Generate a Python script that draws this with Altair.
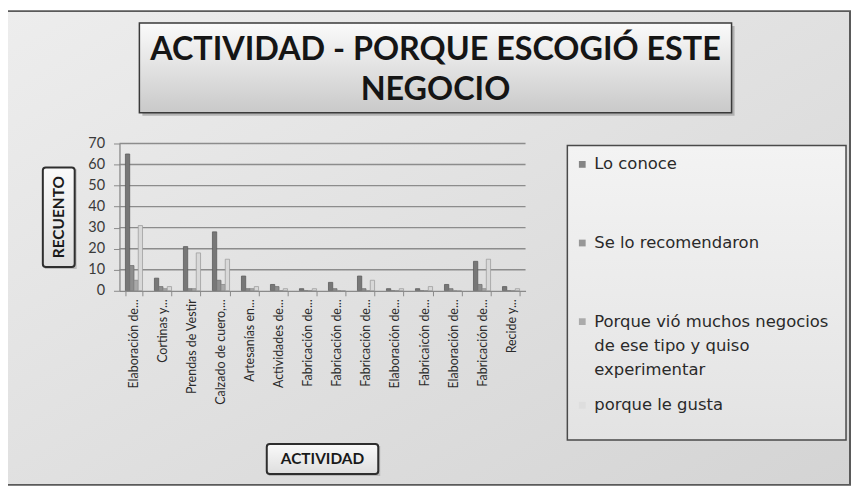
import json
import altair as alt
import pandas as pd

# ---------------- data ----------------
CATEGORIES = [
    "Elaboración de...", "Cortinas y...", "Prendas de Vestir", "Calzado de cuero,...",
    "Artesanías en...", "Actividades de...", "Fabricación de...", "Fabricación de...",
    "Fabricación de...", "Elaboración de...", "Fabricaicón de...", "Elaboración de...",
    "Fabricación de...", "Recide y...",
]
SERIES = [
    "Lo conoce",
    "Se lo recomendaron",
    "Porque vió muchos negocios de ese tipo y quiso experimentar",
    "porque le gusta",
]
LO_CONOCE = [65, 6, 21, 28, 7, 3, 1, 4, 7, 1, 1, 3, 14, 2]
SE_LO_RECOMENDARON = [12, 2, 1, 5, 1, 2, 0, 1, 1, 0, 0, 1, 3, 0]
PORQUE_VIO = [5, 1, 1, 3, 1, 0, 0, 0, 0, 0, 0, 0, 1, 0]
PORQUE_LE_GUSTA = [31, 2, 18, 15, 2, 1, 1, 0, 5, 1, 2, 0, 15, 1]
Y_TICKS = [0, 10, 20, 30, 40, 50, 60, 70]
GRID_LINES = [10, 20, 30, 40, 50, 60, 70]

TITLE_LINES = ["ACTIVIDAD - PORQUE ESCOGIÓ ESTE", "NEGOCIO"]
Y_TITLE = "RECUENTO"
X_TITLE = "ACTIVIDAD"
LEGEND_LINES = [
    ["Lo conoce"],
    ["Se lo recomendaron"],
    ["Porque vió muchos negocios", "de ese tipo y quiso", "experimentar"],
    ["porque le gusta"],
]

# ---------------- style ----------------
FILLS = ["#777777", "#8e8e8e", "#a8a8a8", "#d8d8d8"]
STROKES = ["#5c5c5c", "#727272", "#8a8a8a", "#9e9e9e"]
SWATCH = ["#858585", "#979797", "#ababab", "#dedede"]
PLOT_W, PLOT_H = 408, 148
PAD = {"left": 112, "top": 135, "right": 327, "bottom": 196}

rows = []
for s, vals in zip(SERIES, [LO_CONOCE, SE_LO_RECOMENDARON, PORQUE_VIO, PORQUE_LE_GUSTA]):
    for i, v in enumerate(vals):
        rows.append({"idx": i, "serie": s, "value": v})
df = pd.DataFrame(rows)

ONE = pd.DataFrame({"k": [0]})


def grad(c1, c2, x2=0, y2=1):
    return alt.Gradient(
        gradient="linear",
        stops=[alt.GradientStop(color=c1, offset=0), alt.GradientStop(color=c2, offset=1)],
        x1=0, y1=0, x2=x2, y2=y2,
    )


def rect(x, x2, y, y2, fill, stroke=None, sw=0, radius=0, opacity=1):
    kw = dict(fill=fill, cornerRadius=radius, opacity=opacity)
    if stroke:
        kw.update(stroke=stroke, strokeWidth=sw)
    return alt.Chart(ONE).mark_rect(**kw).encode(
        x=alt.value(x), x2=alt.value(x2), y=alt.value(y), y2=alt.value(y2)
    )


def text(t, x, y, size, font="Lato", weight="normal", color="#222222", align="center", angle=0):
    kw = dict(fontSize=size, font=font, fontWeight=weight, color=color, align=align, baseline="middle")
    if angle:
        kw["angle"] = angle
    return alt.Chart(ONE).mark_text(**kw).encode(
        x=alt.value(x), y=alt.value(y), text=alt.value(t)
    )


Y_SCALE = alt.Scale(domain=[0, 70])
Y_AXIS = alt.Axis(
    title=None, values=Y_TICKS, grid=False, labelFont="Lato", labelFontSize=14.5,
    labelColor="#3a3a3a", labelPadding=9, tickSize=6, tickColor="#8a8a8a",
    domainColor="#8a8a8a", domainWidth=1.3, zindex=1,
)

layers = []
# outer frame with gradient background
layers.append(rect(-113, 734, -133, 343, grad("#ededed", "#d4d4d4", 1, 1), "#5a5a5a", 2))

# title box
layers.append(rect(23, 618, -118, -28, "#9c9c9c", opacity=0.7))
layers.append(rect(20, 615, -121, -31, grad("#fbfbfb", "#c9c9c9"), "#3a3a3a", 1.5))
layers.append(text(TITLE_LINES[0], 317.5, -94, 32.5, weight="bold", color="#151515"))
layers.append(text(TITLE_LINES[1], 317.5, -54, 32.5, weight="bold", color="#151515"))

# y title box
layers.append(rect(-75, -43, 26, 126, "#a0a0a0", opacity=0.6))
layers.append(rect(-77, -45, 24, 124, grad("#fafafa", "#dedede"), "#2e2e2e", 2, 3))
layers.append(text(Y_TITLE, -61, 74, 15.5, weight="bold", color="#1a1a1a", angle=270))

# x title box
layers.append(rect(150, 262, 304, 334, "#a0a0a0", opacity=0.6))
layers.append(rect(148, 260, 302, 332, grad("#fafafa", "#dedede"), "#2e2e2e", 2, 3))
layers.append(text(X_TITLE, 204, 317, 15.5, weight="bold", color="#1a1a1a"))

# legend box
layers.append(rect(450, 730, 2, 298, grad("#f3f3f3", "#e3e3e3"), "#4a4a4a", 1.5))

# gridlines
grid = alt.Chart(pd.DataFrame({"value": GRID_LINES})).mark_rule(
    color="#8c8c8c", strokeWidth=1.4
).encode(y=alt.Y("value:Q", axis=Y_AXIS, scale=Y_SCALE))
layers.append(grid)

label_expr = "[" + ",".join(json.dumps(c, ensure_ascii=False) for c in CATEGORIES) + "][datum.value]"

bars = alt.Chart(df).mark_bar(strokeWidth=0.8).encode(
    x=alt.X(
        "idx:O",
        sort=list(range(len(CATEGORIES))),
        scale=alt.Scale(paddingInner=0.41, paddingOuter=0.205),
        axis=alt.Axis(
            title=None, labelAngle=270, labelAlign="right", labelBaseline="middle",
            labelExpr=label_expr, labelFont="Lato", labelFontSize=12.5, labelColor="#2a2a2a",
            labelPadding=3, tickSize=5, tickBand="extent", tickColor="#8a8a8a",
            domainColor="#8a8a8a", domainWidth=1.3, zindex=1, labelLimit=200,
        ),
    ),
    xOffset=alt.XOffset("serie:N", sort=SERIES, scale=alt.Scale(paddingInner=0, paddingOuter=0)),
    y=alt.Y("value:Q", scale=Y_SCALE, axis=Y_AXIS),
    color=alt.Color("serie:N", sort=SERIES, scale=alt.Scale(domain=SERIES, range=FILLS), legend=None),
    stroke=alt.Stroke("serie:N", sort=SERIES, scale=alt.Scale(domain=SERIES, range=STROKES), legend=None),
)
layers.append(bars)

# legend entries
LEG_Y = [21, 100, 179, 263]
LINE_H = 24.5
for i, lines in enumerate(LEGEND_LINES):
    layers.append(
        alt.Chart(ONE).mark_square(size=46, opacity=1, color=SWATCH[i]).encode(
            x=alt.value(465), y=alt.value(LEG_Y[i])
        )
    )
    for j, ln in enumerate(lines):
        layers.append(text(ln, 477, LEG_Y[i] + j * LINE_H, 16.5, font="DejaVu Sans",
                           color="#2a2a2a", align="left"))

chart = alt.layer(*layers).properties(
    width=PLOT_W,
    height=PLOT_H,
    autosize=alt.AutoSizeParams(type="none"),
    padding=PAD,
).configure_view(stroke=None).configure(background="#ffffff")

chart.save("out.html", embed_options={"renderer": "svg", "actions": False})
